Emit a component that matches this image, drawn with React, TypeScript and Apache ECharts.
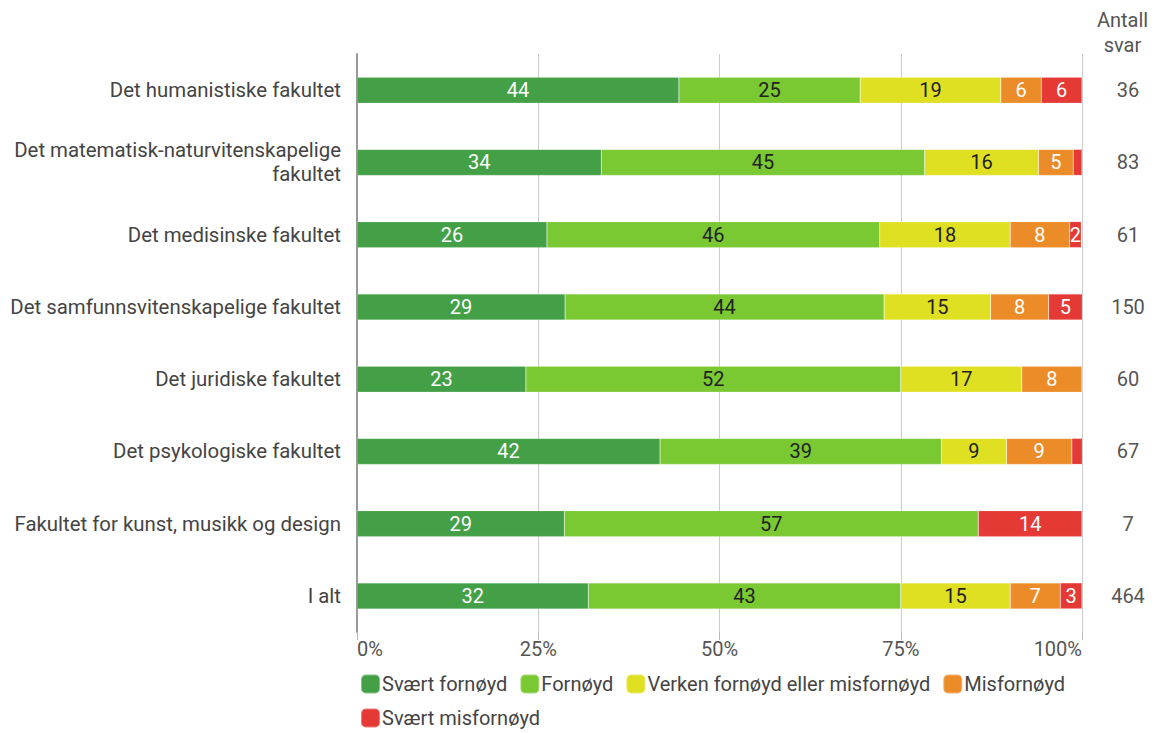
import React, { useEffect, useRef } from "react";
import * as echarts from "echarts";

const categories = [
  "Det humanistiske fakultet",
  "Det matematisk-naturvitenskapelige\nfakultet",
  "Det medisinske fakultet",
  "Det samfunnsvitenskapelige fakultet",
  "Det juridiske fakultet",
  "Det psykologiske fakultet",
  "Fakultet for kunst, musikk og design",
  "I alt",
];
const counts = [36, 83, 61, 150, 60, 67, 7, 464];
const seriesNames = [
  "Svært fornøyd",
  "Fornøyd",
  "Verken fornøyd eller misfornøyd",
  "Misfornøyd",
  "Svært misfornøyd",
];
const sveartFornoyd = [44.4, 33.7, 26.2, 28.7, 23.3, 41.8, 28.6, 31.9];
const fornoyd = [25.0, 44.6, 45.9, 44.0, 51.7, 38.8, 57.1, 43.1];
const verken = [19.4, 15.7, 18.0, 14.7, 16.7, 9.0, 0, 15.1];
const misfornoyd = [5.6, 4.8, 8.2, 8.0, 8.3, 9.0, 0, 6.9];
const svaertMisfornoyd = [5.6, 1.2, 1.6, 4.7, 0, 1.5, 14.3, 3.0];
const seriesData = [sveartFornoyd, fornoyd, verken, misfornoyd, svaertMisfornoyd];
const colors = ["#43a047", "#7ac832", "#e0e023", "#ec8c28", "#e53935"];
const labelColors = ["#ffffff", "#222222", "#222222", "#ffffff", "#ffffff"];
const xTicks = [0, 25, 50, 75, 100];

export default function App() {
  const ref = useRef<HTMLDivElement>(null);
  useEffect(() => {
    if (!ref.current) return;
    const chart = echarts.init(ref.current, undefined, { renderer: "svg" });
    const font = "Roboto";
    const fs = 20;
    chart.setOption({
      animation: false,
      textStyle: { fontFamily: font },
      grid: {
        left: 357,
        right: 85,
        top: 54,
        bottom: 101,
        containLabel: false,
        outerBoundsMode: "none",
      },
      legend: {
        left: 355,
        top: 668,
        width: 770,
        itemWidth: 19,
        itemHeight: 19,
        itemGap: 12,
        icon: "roundRect",
        textStyle: { fontFamily: font, fontSize: fs, color: "#444", lineHeight: 22, padding: [0, 0, 0, -3] },
        data: seriesNames,
      },
      xAxis: {
        type: "value",
        min: xTicks[0],
        max: xTicks[xTicks.length - 1],
        interval: 25,
        axisLine: { show: false },
        axisTick: { show: true, length: 8, lineStyle: { color: "#bbb" } },
        splitLine: { show: true, lineStyle: { color: "#cccccc", width: 1 } },
        axisLabel: {
          fontFamily: font,
          fontSize: fs,
          color: "#555",
          margin: 7,
          alignMinLabel: "left",
          alignMaxLabel: "right",
          formatter: (v: number) => `${v}%`,
        },
      },
      yAxis: [
        {
          type: "category",
          data: categories,
          inverse: true,
          axisLine: { show: true, lineStyle: { color: "#999", width: 2 } },
          axisTick: { show: false },
          axisLabel: {
            fontFamily: font,
            fontSize: 20.4,
            color: "#444",
            margin: 16,
            lineHeight: 24,
            align: "right",
          },
        },
        {
          type: "category",
          data: counts.map(String),
          inverse: true,
          position: "right",
          name: "Antall\nsvar",
          nameLocation: "start",
          nameGap: -3,
          nameTextStyle: {
            fontFamily: font,
            fontSize: fs,
            color: "#555",
            align: "center",
            lineHeight: 25,
            padding: [0, 0, 0, 81],
          },
          axisLine: { show: false },
          axisTick: { show: false },
          axisLabel: {
            fontFamily: font,
            fontSize: fs,
            color: "#555",
            margin: 46,
            align: "center",
          },
        },
      ],
      series: seriesNames.map((name, i) => ({
        name,
        type: "bar",
        stack: "total",
        yAxisIndex: 0,
        barWidth: 26,
        data: seriesData[i],
        itemStyle: { color: colors[i], borderColor: "rgba(255,255,255,0.35)", borderWidth: 0.5 },
        label: {
          show: true,
          position: "inside",
          fontFamily: font,
          fontSize: fs,
          color: labelColors[i],
          formatter: (p: any) => (p.value < 1.55 ? "" : String(Math.round(p.value))),
        },
      })),
    });
    return () => chart.dispose();
  }, []);
  return (
    <div
      ref={ref}
      style={{ position: "absolute", left: 0, top: 0, width: 1167, height: 733 }}
    />
  );
}
